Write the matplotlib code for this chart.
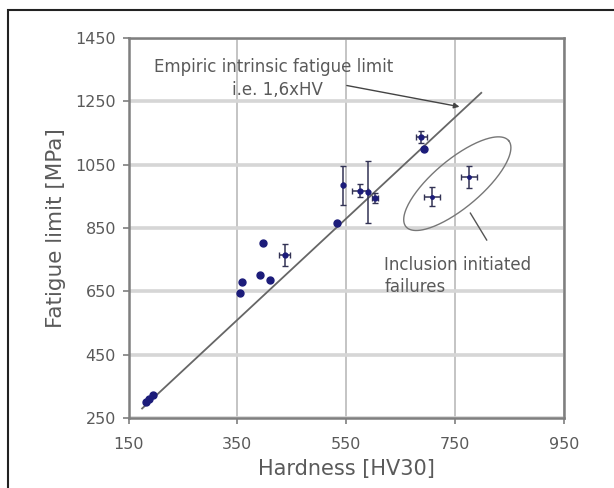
import numpy as np
import matplotlib
matplotlib.use("Agg")
import matplotlib.pyplot as plt
from matplotlib.patches import Rectangle

# Plain data points (no error bars)
hv_plain = [182, 188, 195, 355, 358, 392, 397, 410, 533, 692]
fl_plain = [300, 310, 322, 645, 680, 702, 803, 686, 866, 1100]

# Points with error bars
hv_err = [437, 544, 575, 590, 603, 688]
fl_err = [765, 985, 968, 965, 945, 1137]
hv_xerr = [10, 0, 15, 0, 5, 10]
fl_yerr = [35, 62, 20, 98, 15, 20]

# Inclusion initiated failures
hv_incl = [707, 776]
fl_incl = [948, 1010]
hv_incl_xerr = [15, 15]
fl_incl_yerr = [30, 35]

# Empiric line 1.6 x HV
hv_line = [175, 798]
slope = 1.6

x_ticks = [150, 350, 550, 750, 950]
y_ticks = [250, 450, 650, 850, 1050, 1250, 1450]

navy = "#1c1c7a"
gray_txt = "#5a5a5a"

fig = plt.figure(figsize=(6.14, 4.88), dpi=100)
ax = fig.add_axes([128.5 / 614, 1 - 418 / 488, (564 - 128.5) / 614, (418 - 38) / 488])

ax.set_xlim(150, 950)
ax.set_ylim(250, 1450)
ax.set_xticks(x_ticks)
ax.set_yticks(y_ticks)
ax.yaxis.grid(True, color="#d6d6d6", linewidth=2.6)
ax.xaxis.grid(True, color="#c4c4c4", linewidth=1.4)
ax.set_axisbelow(True)
for s in ax.spines.values():
    s.set_color("#7f7f7f")
    s.set_linewidth(1.8)
ax.tick_params(direction="out", length=4, width=1.2, color="#7f7f7f",
               labelcolor=gray_txt, labelsize=11.5)
ax.tick_params(axis="y", pad=5)
ax.tick_params(axis="x", pad=10)

# Empiric line
xl = np.array(hv_line, dtype=float)
ax.plot(xl, slope * xl, color="#666666", linewidth=1.3, zorder=2)

ax.plot(hv_plain, fl_plain, "o", color=navy, markersize=5, zorder=4)
ax.errorbar(hv_err, fl_err, xerr=hv_xerr, yerr=fl_yerr, fmt="o", color=navy,
            ecolor="#333355", markersize=3.5, elinewidth=1.1, capsize=2.5,
            capthick=1.0, zorder=4)
ax.errorbar(hv_incl, fl_incl, xerr=hv_incl_xerr, yerr=fl_incl_yerr, fmt="o",
            color=navy, ecolor="#333355", markersize=2.5, elinewidth=1.1,
            capsize=2.5, capthick=1.0, zorder=4)

# Ellipse around inclusion failures (built in pixel space, converted to data)
sx = (564 - 128.5) / 800.0
sy = (418 - 38) / 1200.0
cx, cy = 754, 990
a_px, b_px, ang = 67, 24, np.deg2rad(40)
t = np.linspace(0, 2 * np.pi, 200)
ex = a_px * np.cos(t) * np.cos(ang) - b_px * np.sin(t) * np.sin(ang)
ey = a_px * np.cos(t) * np.sin(ang) + b_px * np.sin(t) * np.cos(ang)
ax.plot(cx + ex / sx, cy + ey / sy, color="#777777", linewidth=1.0, zorder=3)

# Annotations
ax.annotate("", xy=(758, 1233), xytext=(551, 1300),
            arrowprops=dict(arrowstyle="-|>", color="#444444", lw=1.0,
                            mutation_scale=8, shrinkA=0, shrinkB=0))
ax.text(417, 1358, "Empiric intrinsic fatigue limit", color=gray_txt,
        fontsize=12, ha="center", va="center")
ax.text(423, 1287, "i.e. 1,6xHV", color=gray_txt, fontsize=12,
        ha="center", va="center")

ax.plot([778, 808], [897, 812], color="#555555", linewidth=1.0, zorder=3)
ax.text(620, 733, "Inclusion initiated", color=gray_txt, fontsize=12,
        ha="left", va="center")
ax.text(620, 664, "failures", color=gray_txt, fontsize=12,
        ha="left", va="center")

ax.set_xlabel("Hardness [HV30]", fontsize=15, color=gray_txt, labelpad=5)
ax.set_ylabel("Fatigue limit [MPa]", fontsize=15.5, color=gray_txt, labelpad=7)

# Outer frame
fig.patches.append(Rectangle((8 / 614, -0.05), 1.05, 1 - 10 / 488 + 0.05,
                             transform=fig.transFigure, fill=False,
                             edgecolor="#222222", linewidth=1.5))

fig.savefig("out.png", dpi=100)
